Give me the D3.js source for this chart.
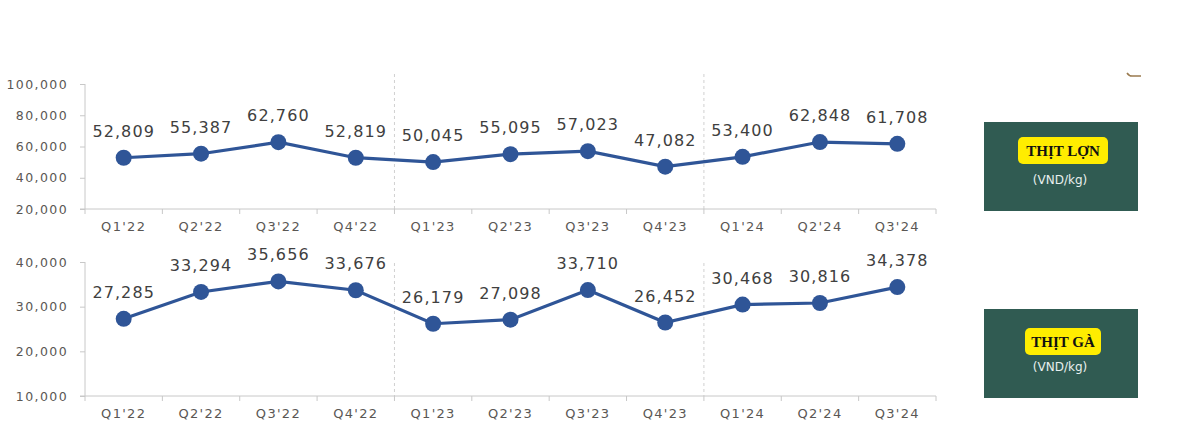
<!DOCTYPE html>
<html>
<head>
<meta charset="utf-8">
<script src="https://cdn.jsdelivr.net/npm/d3@7"></script>
<style>
  body { margin: 0; background: #fff; }
  svg { display: block; }
  text { font-family: "DejaVu Sans", sans-serif; }
</style>
</head>
<body>
<div id="root"></div>
<script>
// data
const quarters = ["Q1'22", "Q2'22", "Q3'22", "Q4'22", "Q1'23", "Q2'23", "Q3'23", "Q4'23", "Q1'24", "Q2'24", "Q3'24"];
const porkValues = [52809, 55387, 62760, 52819, 50045, 55095, 57023, 47082, 53400, 62848, 61708];
const chickenValues = [27285, 33294, 35656, 33676, 26179, 27098, 33710, 26452, 30468, 30816, 34378];
const porkTicks = [20000, 40000, 60000, 80000, 100000];
const chickenTicks = [10000, 20000, 30000, 40000];
const yearStarts = ["Q1'23", "Q1'24"];

const width = 1198;
const height = 426;
const svg = d3.select('#root').append('svg').attr('width', width).attr('height', height);

const fmt = d3.format(',');
const lineColor = '#2f5597';

function drawPanel(cfg) {
  const x = d3.scaleBand().domain(quarters).range([85, 936]);
  const y = d3.scaleLinear().domain(cfg.domain).range([cfg.bottom, cfg.top]);
  const g = svg.append('g');

  // year dividers
  g.selectAll('.divider')
    .data(yearStarts)
    .enter()
    .append('line')
    .attr('x1', (d) => x(d))
    .attr('x2', (d) => x(d))
    .attr('y1', cfg.dividerTop)
    .attr('y2', cfg.bottom)
    .attr('stroke', '#d0d0d0')
    .attr('stroke-dasharray', '3,3');

  // y axis
  const yAxis = d3.axisLeft(y).tickValues(cfg.ticks).tickFormat(fmt).tickSize(5).tickPadding(12);
  const yg = g.append('g').attr('transform', 'translate(85,0)').call(yAxis);
  yg.select('.domain').attr('stroke', '#c8c8c8').attr('d', `M-5,${cfg.bottom}H0V${cfg.top}`);
  yg.selectAll('.tick line').attr('stroke', '#c8c8c8');
  yg.selectAll('.tick text')
    .attr('fill', '#5a5754')
    .style('font-size', '12.5px')
    .style('letter-spacing', '1.4px');

  // x axis
  const xAxis = d3.axisBottom(x).tickSize(0).tickPadding(13);
  const xg = g.append('g').attr('transform', `translate(0,${cfg.bottom})`).call(xAxis);
  xg.select('.domain').attr('stroke', '#c8c8c8').attr('d', 'M85,0H936');
  xg.selectAll('.tick text')
    .attr('fill', '#5a5754')
    .style('font-size', '13px')
    .style('letter-spacing', '1.3px');
  const bounds = d3.range(quarters.length + 1).map((i) => x.range()[0] + i * x.step());
  xg.selectAll('.bound')
    .data(bounds)
    .enter()
    .append('line')
    .attr('x1', (d) => d)
    .attr('x2', (d) => d)
    .attr('y1', 0)
    .attr('y2', 5)
    .attr('stroke', '#c8c8c8');

  const cx = (d, i) => x(quarters[i]) + x.bandwidth() / 2;

  const line = d3.line().x(cx).y((d) => y(d));
  g.append('path')
    .datum(cfg.values)
    .attr('d', line)
    .attr('fill', 'none')
    .attr('stroke', lineColor)
    .attr('stroke-width', 3.2);

  g.selectAll('circle')
    .data(cfg.values)
    .enter()
    .append('circle')
    .attr('cx', cx)
    .attr('cy', (d) => y(d))
    .attr('r', 8)
    .attr('fill', lineColor);

  g.selectAll('.val')
    .data(cfg.values)
    .enter()
    .append('text')
    .attr('x', cx)
    .attr('y', (d) => y(d) - 21)
    .attr('text-anchor', 'middle')
    .attr('fill', '#404040')
    .style('font-size', '16px')
    .style('letter-spacing', '1.1px')
    .text((d) => fmt(d));

  // label box
  const box = svg.append('g');
  box.append('rect')
    .attr('x', 984).attr('y', cfg.box.y)
    .attr('width', 154).attr('height', 89)
    .attr('fill', '#305b52');
  box.append('rect')
    .attr('x', 1063 - cfg.box.pill / 2).attr('y', cfg.box.y + cfg.box.pillY)
    .attr('width', cfg.box.pill).attr('height', 27)
    .attr('rx', 5)
    .attr('fill', '#ffed00');
  box.append('text')
    .attr('x', 1063).attr('y', cfg.box.y + cfg.box.pillY + 19)
    .attr('text-anchor', 'middle')
    .attr('fill', '#111')
    .style('font-family', '"Liberation Serif", "DejaVu Serif", serif')
    .style('font-size', '15px')
    .style('font-weight', 'bold')
    .text(cfg.title);
  box.append('text')
    .attr('x', 1060).attr('y', cfg.box.y + cfg.box.unitY)
    .attr('text-anchor', 'middle')
    .attr('fill', '#e8f0ee')
    .style('font-size', '12px')
    .text('(VND/kg)');
}

drawPanel({
  values: porkValues,
  domain: [20000, 100000],
  ticks: porkTicks,
  top: 84,
  bottom: 209,
  dividerTop: 74,
  title: 'THỊT LỢN',
  box: { y: 122, pill: 90, pillY: 15, unitY: 62 }
});

drawPanel({
  values: chickenValues,
  domain: [10000, 40000],
  ticks: chickenTicks,
  top: 262,
  bottom: 396,
  dividerTop: 263,
  title: 'THỊT GÀ',
  box: { y: 309, pill: 76, pillY: 19, unitY: 62 }
});

// small corner mark
svg.append('path')
  .attr('d', 'M1127,73 Q1129,76 1132,76 L1141,76')
  .attr('fill', 'none')
  .attr('stroke', '#9a7b4f')
  .attr('stroke-width', 1.5);
</script>
</body>
</html>
